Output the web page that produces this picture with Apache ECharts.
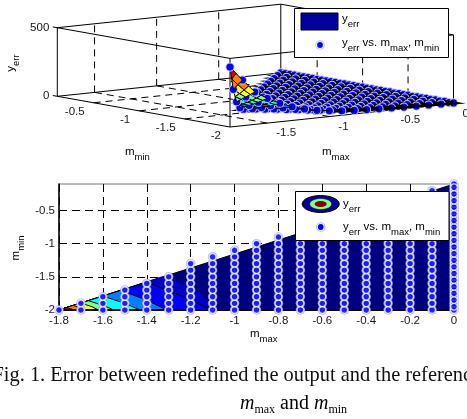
<!DOCTYPE html>
<html><head><meta charset="utf-8">
<style>html,body{margin:0;padding:0;background:#fff;overflow:hidden}#c{width:467px;height:419px}</style>
<script src="https://cdn.jsdelivr.net/npm/echarts@6/dist/echarts.min.js"></script>
</head><body><div id="c"></div>
<script>
// ---- data ----
const mMaxValues = [-1.8,-1.7,-1.6,-1.5,-1.4,-1.3,-1.2,-1.1,-1,-0.9,-0.8,-0.7,-0.6,-0.5,-0.4,-0.3,-0.2,-0.1,0];
const mMinLevels = [-2,-1.9,-1.8,-1.7,-1.6,-1.5,-1.4,-1.3,-1.2,-1.1,-1,-0.9,-0.8,-0.7,-0.6,-0.5,-0.4,-0.3,-0.2,-0.1];
// yerr per m_max column, from m_min = -2 upward
const yErrColumns = [
 [437],
 [333,253],
 [236,188,142],
 [180,140,105,77],
 [135,105,80,60,45],
 [100,80,60,47,37,30],
 [75,60,47,37,30,24,19,15],
 [55,45,37,30,24,19,16,13,11],
 [42,35,28,23,19,16,13,11,9,8],
 [32,27,22,18,15,13,11,9,8,7,6],
 [26,22,18,15,12,10,9,8,7,6,5,5],
 [22,18,15,12,10,9,8,7,6,5,5,4,4],
 [18,15,12,10,9,8,7,6,5,5,4,4,3,3],
 [15,12,10,9,8,7,6,5,5,4,4,3,3,3,2],
 [12,10,9,8,7,6,5,5,4,4,3,3,3,2,2,2],
 [10,8,7,6,5,5,4,4,3,3,3,2,2,2,2,1,1],
 [8,7,6,5,4,4,3,3,3,2,2,2,2,1,1,1,1,1],
 [6,5,4,4,3,3,3,2,2,2,2,1,1,1,1,1,1,0,0],
 [4,4,3,3,2,2,2,2,1,1,1,1,1,1,0,0,0,0,0,0]
];
// extra markers between the rows of the last column
const zeroColumnExtraMin = [-1.95,-1.85,-1.75,-1.65,-1.55,-1.45,-1.35,-1.25,-1.15,-1.05,-0.95,-0.85,-0.75,-0.65,-0.55,-0.45,-0.35,-0.25,-0.15];
// finer surface mesh around the peak (0.05 steps), read from the coloured cells
const peakMax = [-1.8,-1.75,-1.7,-1.65,-1.6,-1.55,-1.5,-1.45,-1.4];
const peakMin = [-2,-1.95,-1.9,-1.85,-1.8,-1.75,-1.7,-1.65,-1.6];
const peakColumns = [
 [437],
 [385,340],
 [333,293,253],
 [285,250,218,190],
 [236,212,188,165,142],
 [208,182,160,140,122,108],
 [180,160,140,122,105,90,77],
 [158,140,122,106,92,80,68,60],
 [135,120,105,92,80,70,60,52,45]
];
// contour bands: each is the region under a level curve, [m_max, m_min] vertices
const bandColors = ['#00007f','#0000c4','#0000ff','#0080ff','#00ffff','#80ff80','#ffff00','#ff8000','#ff0000'];
const bandEdges = [
 [[-1.8,-2],[0,-0.1],[0,-2]],
 [[-1.8,-2],[-1.32,-1.49],[-1.17,-1.72],[-1.08,-2]],
 [[-1.8,-2],[-1.4,-1.58],[-1.25,-1.78],[-1.1,-2]],
 [[-1.8,-2],[-1.52,-1.705],[-1.4,-1.85],[-1.31,-2]],
 [[-1.8,-2],[-1.6,-1.79],[-1.5,-1.9],[-1.43,-2]],
 [[-1.8,-2],[-1.666,-1.86],[-1.6,-1.93],[-1.55,-2]],
 [[-1.8,-2],[-1.7,-1.895],[-1.65,-1.95],[-1.62,-2]],
 [[-1.8,-2],[-1.735,-1.93],[-1.68,-2]],
 [[-1.8,-2],[-1.765,-1.965],[-1.73,-2]]
];
const surfaceLevels = [50,80,110,150,210,260,350];
const surfaceColors = ['#000000','#0000ff','#0080ff','#00ffff','#80ff80','#ffff00','#ff8000','#e00000'];
const mMaxTicks3d = [-1.5,-1,-0.5,0];
const mMinTicks3d = [-0.5,-1,-1.5,-2];
const zTicks3d = [0,500];
const MAXX = 0, MINX = -1.8, MAXY = -0.1, MINY = -2, TOPZ = 500;

// ---- oblique view of the 3-D box on a hidden page-sized axis pair ----
function project(a, b, z) {
  const u = (a + 1.8) / 1.8, v = (b + 2) / 1.9;
  return [230 + u * 223.5 - v * 172.7, 127 - u * 23.5 - v * 30.7 - z / 500 * 68.6];
}
const depth = (a, b) => (a + 1.8) / 1.8 + (b + 2) / 1.9;
const points2d = [], paint = [];
function gridCells(xs, ys, cols, from) {
  for (let i = from; i < cols.length - 1; i++) {
    const A = cols[i], B = cols[i + 1];
    for (let j = 0; j < B.length; j++) {
      const q = [];
      if (j < A.length) q.push([xs[i], ys[j], A[j]]);
      if (j + 1 < A.length) q.push([xs[i], ys[j + 1], A[j + 1]]);
      if (j + 1 < B.length) q.push([xs[i + 1], ys[j + 1], B[j + 1]]);
      q.push([xs[i + 1], ys[j], B[j]]);
      if (q.length >= 3) {
        const d = q.reduce((s, p) => s + depth(p[0], p[1]), 0) / q.length;
        paint.push({kind:'cell', q, d});
      }
    }
  }
}
gridCells(peakMax, peakMin, peakColumns, 0);
gridCells(mMaxValues, mMinLevels, yErrColumns, 4);
yErrColumns.forEach((col, i) => col.forEach((z, j) => {
  points2d.push([mMaxValues[i], mMinLevels[j]]);
  paint.push({kind:'pt', p:[mMaxValues[i], mMinLevels[j], z], d:depth(mMaxValues[i], mMinLevels[j])});
}));
zeroColumnExtraMin.forEach(b => {
  points2d.push([0, b]);
  paint.push({kind:'pt', p:[0, b, 0], d:depth(0, b)});
});
paint.sort((p, q) => q.d - p.d);
function cellColor(q) {
  const m = q.reduce((s, p) => s + p[2], 0) / q.length;
  let k = 0; while (k < surfaceLevels.length && m > surfaceLevels[k]) k++;
  return surfaceColors[k];
}

// box edges, dashed grid and ticks of the 3-D view
const c = (a, b, z) => [a, b, z];
const boxEdges = [
 [c(MINX,MAXY,0),c(MINX,MAXY,TOPZ)],[c(MINX,MINY,0),c(MINX,MINY,TOPZ)],[c(MAXX,MINY,0),c(MAXX,MINY,TOPZ)],[c(MAXX,MAXY,0),c(MAXX,MAXY,TOPZ)],
 [c(MINX,MAXY,0),c(MINX,MINY,0)],[c(MINX,MINY,0),c(MAXX,MINY,0)],[c(MAXX,MINY,0),c(MAXX,MAXY,0)],[c(MAXX,MAXY,0),c(MINX,MAXY,0)],
 [c(MINX,MAXY,TOPZ),c(MINX,MINY,TOPZ)],[c(MINX,MINY,TOPZ),c(MAXX,MINY,TOPZ)],[c(MAXX,MINY,TOPZ),c(MAXX,MAXY,TOPZ)],[c(MAXX,MAXY,TOPZ),c(MINX,MAXY,TOPZ)]
];
const dashEdges = [];
mMaxTicks3d.slice(0,3).forEach(a => { dashEdges.push([c(a,MINY,0),c(a,MAXY,0)]); dashEdges.push([c(a,MAXY,0),c(a,MAXY,TOPZ)]); });
mMinTicks3d.slice(0,3).forEach(b => { dashEdges.push([c(MINX,b,0),c(MAXX,b,0)]); dashEdges.push([c(MAXX,b,0),c(MAXX,b,TOPZ)]); });

const FONT = '"Liberation Sans", Arial, sans-serif';
const TXT = '#1a1a1a';
const subRich = {
  m: {fontFamily:FONT,fontSize:11.5,color:TXT,lineHeight:16,verticalAlign:'top'},
  s: {fontFamily:FONT,fontSize:9.5,color:TXT,lineHeight:16,verticalAlign:'bottom',padding:[7,0,0,0]}
};
const label2 = '{m|y}{s|err}{m| vs. m}{s|max}{m|, m}{s|min}';

function lineSeries(name, edges, style, z) {
  return {type:'custom', name, xAxisIndex:1, yAxisIndex:1, coordinateSystem:'cartesian2d', silent:true, clip:false, z,
    data: edges.map((e, i) => [i]), encode:{x:0,y:0},
    renderItem: (p, api) => {
      const e = edges[p.dataIndex];
      const s = api.coord(project(...e[0])), t = api.coord(project(...e[1]));
      return {type:'line', shape:{x1:s[0],y1:s[1],x2:t[0],y2:t[1]}, style};
    }};
}
function tickTexts(name, items) {
  return {type:'custom', name, xAxisIndex:1, yAxisIndex:1, silent:true, clip:false, z:4,
    data: items.map((e, i) => [i]), encode:{x:0,y:0},
    renderItem: (p, api) => {
      const e = items[p.dataIndex];
      const s = api.coord(project(...e.at));
      return {type:'text', x:s[0]+e.dx, y:s[1]+e.dy, style:{text:String(e.v), align:e.align, verticalAlign:'middle', font:'11.5px '+FONT, fill:TXT}};
    }};
}
function legendBox(x, y, w, h) {
  return {type:'rect', z:50, shape:{x,y,width:w,height:h}, style:{fill:'#fff',stroke:'#000',lineWidth:1}};
}
function richText(x, y, text, rot) {
  return {type:'text', z:51, x, y, rotation:rot||0, style:{text, rich:subRich, align:rot?'center':'left', verticalAlign:'middle'}};
}
function markerIcon(x, y) {
  return [
    {type:'circle', z:51, shape:{cx:x,cy:y,r:4.7}, style:{fill:'#b9b9ff'}},
    {type:'circle', z:51, shape:{cx:x,cy:y,r:3.8}, style:{fill:'#fff'}},
    {type:'circle', z:51, shape:{cx:x,cy:y,r:2.9}, style:{fill:'#0000ff'}}
  ];
}

const option = {
  animation:false,
  backgroundColor:'#fff',
  grid:[
    {left:59, right:13, top:184, height:126, show:true, borderColor:'#777', borderWidth:1, backgroundColor:'transparent', containLabel:false},
    {left:0, top:0, width:467, height:419, show:false}
  ],
  xAxis:[
    {type:'value', gridIndex:0, min:-1.8, max:0, interval:0.2, z:2,
     axisLine:{show:true,onZero:false,lineStyle:{color:'#000',width:2}},
     axisTick:{show:true,inside:true,length:3,lineStyle:{color:'#000'}},
     axisLabel:{color:TXT,fontFamily:FONT,fontSize:11.5,margin:5,formatter:v=>String(+v.toFixed(1)),hideOverlap:false},
     splitLine:{show:true,lineStyle:{color:'#000',type:[8,5],width:1}}},
    {type:'value', gridIndex:1, min:0, max:467, show:false, splitLine:{show:false}}
  ],
  yAxis:[
    {type:'value', gridIndex:0, min:-2, max:-0.1, interval:0.5, z:2,
     axisLine:{show:true,onZero:false,lineStyle:{color:'#000',width:1.5}},
     axisTick:{show:true,inside:true,length:3,lineStyle:{color:'#000'}},
     axisLabel:{color:TXT,fontFamily:FONT,fontSize:11.5,margin:4,showMaxLabel:false,formatter:v=>String(+v.toFixed(1))},
     splitLine:{show:true,showMaxLine:false,lineStyle:{color:'#000',type:[8,5],width:1}}},
    {type:'value', gridIndex:1, min:0, max:419, inverse:true, show:false, splitLine:{show:false}}
  ],
  series:[
    // contour (bottom panel)
    {type:'custom', name:'yerr contour', xAxisIndex:0, yAxisIndex:0, silent:true, clip:false, z:1,
     data:bandEdges.map((b,i)=>[i]), encode:{x:0,y:0},
     renderItem:(p,api)=>{
       const i=p.dataIndex;
       return {type:'polygon', shape:{points:bandEdges[i].map(v=>api.coord(v))},
         style:{fill:bandColors[i], stroke:i===1?bandColors[i]:'#000', lineWidth:1}};
     }},
    {type:'scatter', name:'yerr vs. mmax, mmin halo', xAxisIndex:0, yAxisIndex:0, data:points2d, symbolSize:9.5, clip:false, silent:true, z:3,
     itemStyle:{color:'#a8a8ff'}},
    {type:'scatter', name:'yerr vs. mmax, mmin', xAxisIndex:0, yAxisIndex:0, data:points2d, symbolSize:6.7, clip:false, silent:true, z:3,
     itemStyle:{color:'#0000ff',borderColor:'#fff',borderWidth:1.3}},
    // 3-D view (top panel)
    lineSeries('box dashes', dashEdges, {stroke:'#000',lineWidth:1,lineDash:[7,5]}, 1),
    lineSeries('box', boxEdges, {stroke:'#000',lineWidth:1}, 1),
    {type:'custom', name:'yerr surface and markers', xAxisIndex:1, yAxisIndex:1, silent:true, clip:false, z:2,
     data:paint.map((q,i)=>[i]), encode:{x:0,y:0},
     renderItem:(p,api)=>{
       const it=paint[p.dataIndex];
       if (it.kind==='cell') {
         return {type:'polygon', shape:{points:it.q.map(v=>api.coord(project(v[0],v[1],v[2])))},
           style:{fill:cellColor(it.q),stroke:'#000',lineWidth:it.q[0][2]<50?3.2:1}};
       }
       const s=api.coord(project(it.p[0],it.p[1],it.p[2]));
       return {type:'group', children:[
         {type:'circle', shape:{cx:s[0],cy:s[1],r:4.6}, style:{fill:'#c4c4ff'}},
         {type:'circle', shape:{cx:s[0],cy:s[1],r:3.6}, style:{fill:'#0000ff'}}
       ]};
     }},
    tickTexts('m_min ticks', mMinTicks3d.map(v=>({v,at:[MINX,v,0],dx:-9,dy:9,align:'right'}))),
    tickTexts('m_max ticks', mMaxTicks3d.map(v=>({v,at:[v,MINY,0],dx:9,dy:10,align:'left'}))),
    tickTexts('y ticks', zTicks3d.map(v=>({v,at:[MINX,MAXY,v],dx:-8,dy:0,align:'right'}))),
    lineSeries('y tick marks', [[c(MINX,MAXY,0),c(MINX,MAXY+0.05,0)],[c(MINX,MAXY,TOPZ),c(MINX,MAXY+0.05,TOPZ)]], {stroke:'#000',lineWidth:1}, 1)
  ],
  graphic:{elements:[
    richText(13, 63, '{m|y}{s|err}', Math.PI/2),
    richText(125, 154, '{m|m}{s|min}'),
    richText(322, 154, '{m|m}{s|max}'),
    richText(18, 248, '{m|m}{s|min}', Math.PI/2),
    richText(250, 336, '{m|m}{s|max}'),
    legendBox(294.5, 8.5, 154, 49),
    {type:'rect', z:51, shape:{x:301,y:13,width:37,height:17}, style:{fill:'#00009f',stroke:'#000',lineWidth:1}},
    ...markerIcon(320, 45),
    richText(342, 21, '{m|y}{s|err}'),
    richText(342, 45, label2),
    legendBox(295.5, 191.5, 153.5, 49),
    {type:'ellipse', z:51, shape:{cx:320.7,cy:204,rx:18.5,ry:8.5}, style:{fill:'#00009f',stroke:'#000',lineWidth:1}},
    {type:'ellipse', z:51, shape:{cx:320.7,cy:204,rx:11,ry:5.5}, style:{fill:'#80ff80',stroke:'#000',lineWidth:0.5}},
    {type:'ellipse', z:51, shape:{cx:320.7,cy:204,rx:6,ry:3}, style:{fill:'#8b0000'}},
    ...markerIcon(320.7, 227),
    richText(343, 206, '{m|y}{s|err}'),
    richText(343, 229, label2),
    {type:'text', z:51, x:-7.5, y:376, style:{text:'Fig. 1. Error between redefined the output and the reference', align:'left', verticalAlign:'middle', font:'20.4px "Liberation Serif", serif', fill:'#111'}},
    {type:'text', z:51, x:240, y:405, style:{text:'{i|m}{t|max}{r| and }{i|m}{t|min}', verticalAlign:'middle',
      rich:{i:{fontFamily:'"Liberation Serif"',fontStyle:'italic',fontSize:20,color:'#111',lineHeight:22,verticalAlign:'top'},
            r:{fontFamily:'"Liberation Serif"',fontSize:20,color:'#111',lineHeight:22,verticalAlign:'top'},
            t:{fontFamily:'"Liberation Serif"',fontSize:12,color:'#111',lineHeight:22,verticalAlign:'bottom',padding:[8,0,0,0]}}}}
  ]}
};
const chart = echarts.init(document.getElementById('c'), null, {renderer:'canvas'});
chart.setOption(option);
</script></body></html>
